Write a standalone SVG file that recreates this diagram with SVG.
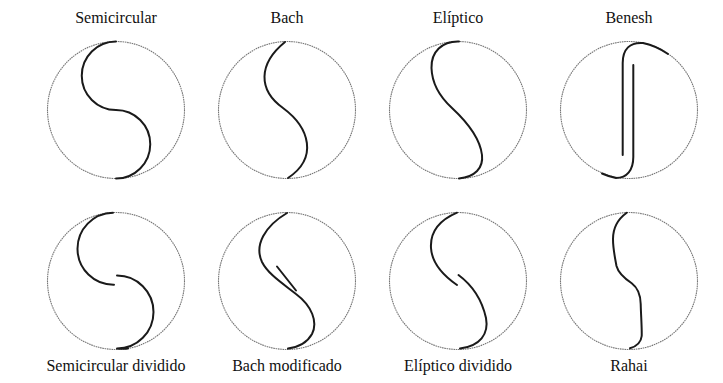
<svg xmlns="http://www.w3.org/2000/svg" width="723" height="383" viewBox="0 0 723 383">
<style>
.ring{fill:none;stroke:#777;stroke-width:1.1;stroke-dasharray:1.6 0.7}
.cut{fill:none;stroke:#1a1a1a;stroke-width:2;stroke-linecap:round;stroke-linejoin:round}
.lbl{font-family:'Liberation Serif','Times New Roman',serif;font-size:16px;fill:#111;text-anchor:middle}
</style>
<rect width="723" height="383" fill="#fff"/>
<g id="semicircular">
<circle class="ring" cx="116" cy="110" r="68.5"/>
<path class="cut" d="M116,41.5 A34.25,34.25 0 0 0 116,110 A34.25,34.25 0 0 1 116,178.5"/>
<text class="lbl" x="116" y="23">Semicircular</text>
</g>
<g id="bach">
<circle class="ring" cx="287" cy="110" r="68.5"/>
<path class="cut" d="M285,42 C258,64 258,90 283,108 C310,128 318,158 288,178"/>
<text class="lbl" x="287" y="23">Bach</text>
</g>
<g id="eliptico">
<circle class="ring" cx="458" cy="110" r="68.5"/>
<path class="cut" d="M459,41.5 C442,41 431,52 431.5,68 C432,85 440,97 452,108 C466,121 480,138 482,155 C483.5,168 475,177 459,178.5"/>
<text class="lbl" x="458" y="23">Elíptico</text>
</g>
<g id="benesh">
<circle class="ring" cx="629" cy="110" r="68.5"/>
<path class="cut" d="M622.7,155 L622.7,63 C622.7,49 630,42 643,43 A68.5,68.5 0 0 1 668,54"/>
<path class="cut" d="M633.3,65 L633.3,157 C633.3,170 627,178 616,178 A68.5,68.5 0 0 1 602,173.5"/>
<text class="lbl" x="629" y="23">Benesh</text>
</g>
<g id="semicircular-dividido">
<circle class="ring" cx="116" cy="281" r="68.5"/>
<path class="cut" d="M113,212.7 A36,36 0 0 0 114,284.7"/>
<path class="cut" d="M117,275.5 A36.5,36.5 0 0 1 117,348.5 A68.5,68.5 0 0 0 128,348.6"/>
<text class="lbl" x="116" y="371">Semicircular dividido</text>
</g>
<g id="bach-modificado">
<circle class="ring" cx="287" cy="281" r="68.5"/>
<path class="cut" d="M287,213 C265,226 254,245 262,262 C268,274 282,283 296,294 C312,306 318,322 312,334 C307,343 299,347 288,348.5"/>
<path class="cut" d="M277,266.5 L296,290.5"/>
<text class="lbl" x="287" y="371">Bach modificado</text>
</g>
<g id="eliptico-dividido">
<circle class="ring" cx="458" cy="281" r="68.5"/>
<path class="cut" d="M457,212.7 C440,220 430,232 431,248 C432,264 444,276 457,285"/>
<path class="cut" d="M458.5,275 C472,285 482,300 486,318 C489,334 480,346 460,348.5"/>
<text class="lbl" x="458" y="371">Elíptico dividido</text>
</g>
<g id="rahai">
<circle class="ring" cx="629" cy="281" r="68.5"/>
<path class="cut" d="M626.7,212.7 C618,219 613,228 613,239 C613,249 615,258 616.5,266 C618,272 624,278 631.7,283.3 C638,288 640.5,294 640.7,304 C641,316 642,328 641.7,336 C641,343 636,346.5 630,348.3"/>
<text class="lbl" x="629" y="371">Rahai</text>
</g>
<g id="connectors"/>
</svg>
